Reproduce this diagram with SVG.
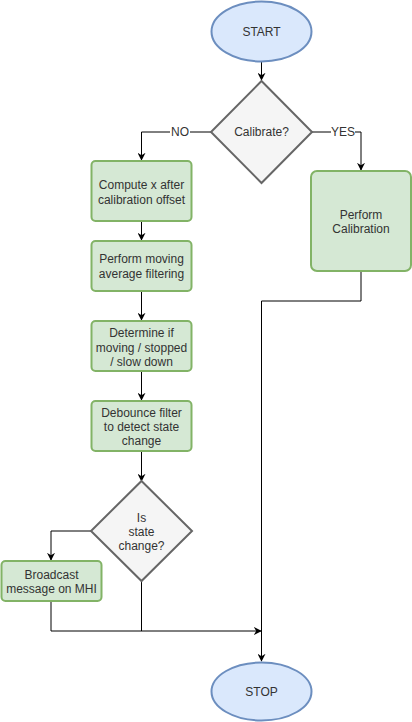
<svg xmlns="http://www.w3.org/2000/svg" width="412" height="722" viewBox="0 0 412 722">
<defs>
<marker id="arr" viewBox="0 0 10 10" refX="9" refY="5" markerWidth="8" markerHeight="8" markerUnits="userSpaceOnUse" orient="auto">
<path d="M0,0 L10,5 L0,10 L3,5 Z" fill="#000"/>
</marker>
<style>
.term{fill:#dae8fc;stroke:#6c8ebf;stroke-width:2}
.dec{fill:#f5f5f5;stroke:#666666;stroke-width:2}
.proc{fill:#d5e8d4;stroke:#82b366;stroke-width:2}
.t{font-family:"Liberation Sans",Arial,sans-serif;font-size:12px;fill:#333333;text-anchor:middle}
.lbl{font-family:"Liberation Sans",Arial,sans-serif;font-size:12px;fill:#333333;text-anchor:middle}
.c{fill:none;stroke:#000;stroke-width:1}
</style>
</defs>
<rect width="412" height="722" fill="#ffffff"/>
<g id="connectors">
<path class="c" d="M261.5,62 L261.5,80" marker-end="url(#arr)"/>
<path class="c" d="M212,132 L141.5,132 L141.5,160" marker-end="url(#arr)"/>
<path class="c" d="M312,132 L361,132 L361,170" marker-end="url(#arr)"/>
<path class="c" d="M141.5,221 L141.5,240" marker-end="url(#arr)"/>
<path class="c" d="M141.5,291 L141.5,320" marker-end="url(#arr)"/>
<path class="c" d="M141.5,371 L141.5,400" marker-end="url(#arr)"/>
<path class="c" d="M141.5,451 L141.5,481" marker-end="url(#arr)"/>
<path class="c" d="M91,531 L51,531 L51,560" marker-end="url(#arr)"/>
<path class="c" d="M51,601 L51,631 L261,631" marker-end="url(#arr)"/>
<path class="c" d="M141.5,581 L141.5,631"/>
<path class="c" d="M361,271 L361,301 L261.5,301 L261.5,661" marker-end="url(#arr)"/>
<rect x="170" y="125" width="20" height="14" fill="#ffffff"/>
<text class="lbl" x="180" y="136">NO</text>
<rect x="331" y="125" width="24" height="14" fill="#ffffff"/>
<text class="lbl" x="343" y="136">YES</text>
</g>
<g id="start">
<ellipse class="term" cx="261.5" cy="31.5" rx="50" ry="30"/>
<text class="t" x="261.5" y="36">START</text>
</g>
<g id="calibrate">
<path class="dec" d="M261.5,81 L312,132 L261.5,183 L211,132 Z"/>
<text class="t" x="261.5" y="136">Calibrate?</text>
</g>
<g id="compute">
<rect class="proc" x="91.5" y="161" width="100" height="60" rx="4"/>
<text class="t" x="141.5" y="189">Compute x after</text>
<text class="t" x="141.5" y="204">calibration offset</text>
</g>
<g id="moving-average">
<rect class="proc" x="91.5" y="241" width="100" height="50" rx="4"/>
<text class="t" x="141.5" y="263">Perform moving</text>
<text class="t" x="141.5" y="278">average filtering</text>
</g>
<g id="determine">
<rect class="proc" x="91.5" y="321" width="100" height="50" rx="4"/>
<text class="t" x="141.5" y="337">Determine if</text>
<text class="t" x="141.5" y="351.5">moving / stopped</text>
<text class="t" x="141.5" y="365.5">/ slow down</text>
</g>
<g id="debounce">
<rect class="proc" x="91.5" y="401" width="100" height="50" rx="4"/>
<text class="t" x="141.5" y="417">Debounce filter</text>
<text class="t" x="141.5" y="431">to detect state</text>
<text class="t" x="141.5" y="445">change</text>
</g>
<g id="state-change">
<path class="dec" d="M141.5,481 L192,531 L141.5,581 L91,531 Z"/>
<text class="t" x="141.5" y="522">Is</text>
<text class="t" x="141.5" y="536">state</text>
<text class="t" x="141.5" y="550">change?</text>
</g>
<g id="broadcast">
<rect class="proc" x="1.5" y="561" width="100" height="40" rx="4"/>
<text class="t" x="51.5" y="579">Broadcast</text>
<text class="t" x="51.5" y="593">message on MHI</text>
</g>
<g id="calibration">
<rect class="proc" x="311" y="171" width="100" height="100" rx="6"/>
<text class="t" x="361" y="219">Perform</text>
<text class="t" x="361" y="233">Calibration</text>
</g>
<g id="stop">
<ellipse class="term" cx="261.5" cy="691.5" rx="50" ry="29"/>
<text class="t" x="261.5" y="696">STOP</text>
</g>
</svg>
